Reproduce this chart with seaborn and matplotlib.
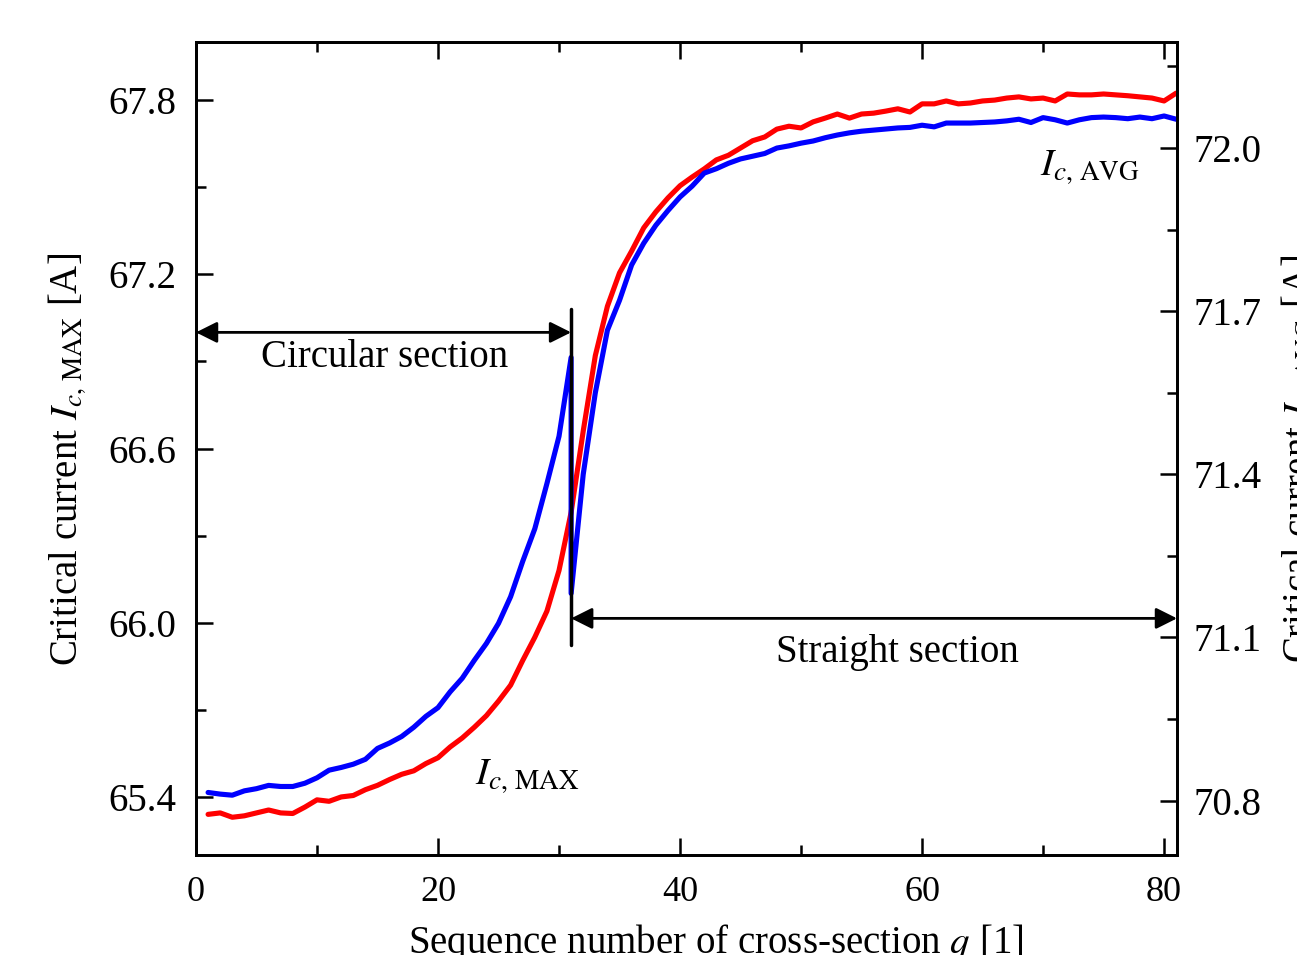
import numpy as np
import pandas as pd
import matplotlib
matplotlib.use("Agg")
import matplotlib.pyplot as plt
from matplotlib.ticker import MultipleLocator
import seaborn as sns

# sequence number of cross-section
q = list(range(1, 82))

# Ic,MAX (left axis), red
ic_max = [
    65.340, 65.345, 65.330, 65.335, 65.345, 65.355, 65.345, 65.343, 65.365, 65.390,
    65.385, 65.400, 65.405, 65.425, 65.440, 65.460, 65.478, 65.490, 65.515, 65.535,
    65.572, 65.603, 65.640, 65.680, 65.730, 65.785, 65.870, 65.950, 66.040, 66.180,
    66.380, 66.660, 66.920, 67.090, 67.205, 67.280, 67.360, 67.415, 67.463, 67.505,
    67.535, 67.563, 67.594, 67.610, 67.635, 67.660, 67.673, 67.700, 67.710, 67.704,
    67.725, 67.738, 67.752, 67.738, 67.752, 67.755, 67.762, 67.770, 67.759, 67.787,
    67.787, 67.797, 67.787, 67.790, 67.797, 67.800, 67.807, 67.811, 67.804, 67.807,
    67.797, 67.821, 67.818, 67.818, 67.821, 67.818, 67.815, 67.811, 67.807, 67.797,
    67.824,
]

# Ic,AVG (right axis), blue - circular section q = 1..31
q_circ = list(range(1, 32))
ic_avg_circ = [
    70.815, 70.812, 70.810, 70.818, 70.822, 70.828, 70.826, 70.826, 70.832, 70.842,
    70.856, 70.861, 70.867, 70.876, 70.896, 70.906, 70.918, 70.935, 70.955, 70.971,
    71.000, 71.025, 71.058, 71.089, 71.126, 71.175, 71.240, 71.300, 71.383, 71.470,
    71.615,
]

# Ic,AVG - straight section q = 31..81
q_str = list(range(31, 82))
ic_avg_str = [
    71.181, 71.400, 71.550, 71.665, 71.720, 71.785, 71.825, 71.858, 71.885, 71.910,
    71.930, 71.954, 71.962, 71.972, 71.980, 71.985, 71.990, 72.000, 72.004, 72.009,
    72.013, 72.019, 72.024, 72.028, 72.031, 72.033, 72.035, 72.037, 72.038, 72.042,
    72.039, 72.046, 72.046, 72.046, 72.047, 72.048, 72.050, 72.053, 72.047, 72.056,
    72.052, 72.046, 72.052, 72.056, 72.057, 72.056, 72.054, 72.057, 72.054, 72.059,
    72.053,
]

sns.set_style("ticks")
plt.rcParams["font.family"] = ["Liberation Serif", "DejaVu Serif"]
plt.rcParams["mathtext.fontset"] = "stix"
for k in ("text.color", "axes.labelcolor", "xtick.color", "ytick.color", "axes.edgecolor"):
    plt.rcParams[k] = "black"

FS = 28

fig = plt.figure(figsize=(12.97, 9.55), dpi=100)
ax = fig.add_axes([0.1511, 0.1047, 0.9075 - 0.1511, 0.956 - 0.1047])
ax2 = ax.twinx()

sns.lineplot(x=q, y=ic_max, ax=ax, color="#ff0000", linewidth=3.7)

blue = pd.DataFrame({"q": q_circ + q_str, "Ic": ic_avg_circ + ic_avg_str})
sns.lineplot(data=blue, x="q", y="Ic", ax=ax2, color="#0000ff", linewidth=3.7,
             sort=False, estimator=None)

ax.set_xlim(0, 81.07)
ax.set_ylim(65.2, 68.0)
ax2.set_ylim(70.7, 72.195)

ax.xaxis.set_major_locator(MultipleLocator(20))
ax.xaxis.set_minor_locator(MultipleLocator(10))
ax.yaxis.set_major_locator(MultipleLocator(0.6))
ax.yaxis.set_minor_locator(MultipleLocator(0.3))
ax2.yaxis.set_major_locator(MultipleLocator(0.3))
ax2.yaxis.set_minor_locator(MultipleLocator(0.15))
ax.yaxis.set_major_formatter(plt.FormatStrFormatter("%.1f"))
ax2.yaxis.set_major_formatter(plt.FormatStrFormatter("%.1f"))

ax.tick_params(axis="x", which="both", direction="in", top=True, labelsize=26, pad=15)
ax.tick_params(axis="y", which="both", direction="in", right=False, labelsize=FS, pad=14)
ax2.tick_params(axis="y", which="both", direction="in", labelsize=FS, pad=12)
for a in (ax, ax2):
    a.tick_params(which="major", length=12, width=1.8)
    a.tick_params(which="minor", length=7, width=1.8)
    for s in a.spines.values():
        s.set_linewidth(2)
        s.set_visible(True)

ax.set_xlabel("Sequence number of cross-section $q$ [1]", fontsize=FS)
ax.set_ylabel(r"Critical current $I_{c,\,\mathrm{MAX}}$ [A]", fontsize=FS)
ax2.set_ylabel(r"Critical current $I_{c,\,\mathrm{AVG}}$ [A]", fontsize=FS)
ax.xaxis.set_label_coords(0.53, -0.082)
ax.yaxis.set_label_coords(-0.110, 0.487)
ax2.yaxis.set_label_coords(1.104, 0.487)

# section markers, drawn above both lines
tr = ax.transData
ax2.plot([31, 31], [65.923, 67.082], color="black", linewidth=2.5, transform=tr, zorder=5)
arrow = dict(arrowstyle="<|-|>", color="black", linewidth=2, mutation_scale=32,
             shrinkA=0, shrinkB=0)
ax2.annotate("", xy=(0, 67.0), xytext=(31, 67.0), xycoords=tr, textcoords=tr,
             arrowprops=arrow, zorder=5)
ax2.annotate("", xy=(31, 66.015), xytext=(81.07, 66.015), xycoords=tr, textcoords=tr,
             arrowprops=arrow, zorder=5)

ax2.text(15.6, 66.913, "Circular section", transform=tr, fontsize=FS,
         ha="center", va="center")
ax2.text(58.0, 65.899, "Straight section", transform=tr, fontsize=FS,
         ha="center", va="center")
ax2.text(27.4, 65.47, r"$I_{c,\,\mathrm{MAX}}$", transform=tr, fontsize=28,
         ha="center", va="center")
ax2.text(73.9, 67.57, r"$I_{c,\,\mathrm{AVG}}$", transform=tr, fontsize=28,
         ha="center", va="center")

fig.savefig("out.png", dpi=100)
